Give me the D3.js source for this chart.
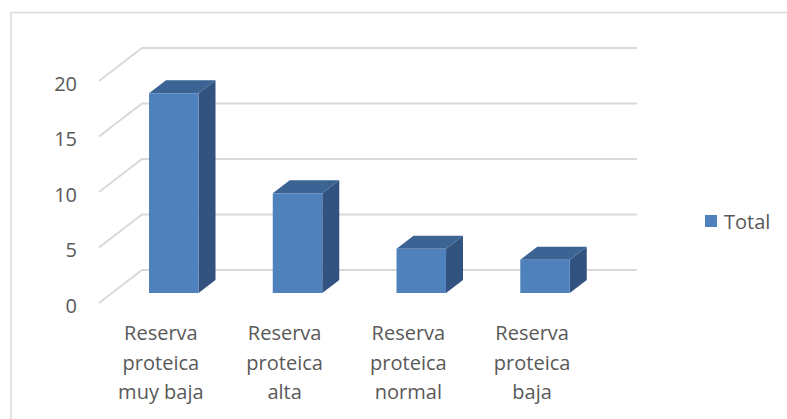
<!DOCTYPE html>
<html>
<head>
<meta charset="utf-8">
<script src="https://cdn.jsdelivr.net/npm/d3@7"></script>
<style>
  html, body { margin: 0; padding: 0; background: #fff; }
  svg { display: block; }
  text { font-family: "Open Sans", "Liberation Sans", sans-serif; fill: #595959; }
</style>
</head>
<body>
<svg id="chart" width="787" height="419"></svg>
<script>
// Data
const categories = [
  ["Reserva", "proteica", "muy baja"],
  ["Reserva", "proteica", "alta"],
  ["Reserva", "proteica", "normal"],
  ["Reserva", "proteica", "baja"]
];
const totals = [18, 9, 4, 3];
const yTicks = [0, 5, 10, 15, 20];
const seriesName = "Total";

const svg = d3.select("#chart");
const W = 787, H = 419;

// Outer chart frame
svg.append("rect")
  .attr("x", 11).attr("y", 12.5)
  .attr("width", 820).attr("height", 500)
  .attr("fill", "none").attr("stroke", "#d9d9d9").attr("stroke-width", 1.5);

// Oblique 3D projection: front floor plane plus depth offset
const depthX = 43, depthY = -33;
const frontLeft = 99, frontRight = 594, wallRight = 637;

const y = d3.scaleLinear().domain([0, 20]).range([303, 81]);
const x = d3.scaleBand()
  .domain(d3.range(categories.length))
  .range([frontLeft, frontRight])
  .paddingInner(0.6).paddingOuter(0.3);

// project a point (front x, value, depth fraction)
const P = (px, v, d) => [px + d * depthX, y(v) + d * depthY];

// Gridlines: side-wall diagonal then back-wall horizontal
const grid = svg.append("g");
yTicks.forEach(t => {
  const a = P(frontLeft, t, 0), b = P(frontLeft, t, 1);
  grid.append("path")
    .attr("d", d3.line()([a, b, [wallRight, b[1]]]))
    .attr("fill", "none").attr("stroke", "#d9d9d9").attr("stroke-width", 2);
});

// Y axis labels
svg.append("g").selectAll("text")
  .data(yTicks).join("text")
  .attr("x", 77).attr("y", d => y(d) + 2)
  .attr("text-anchor", "end")
  .attr("dominant-baseline", "central")
  .attr("font-size", 20)
  .text(d => d);

// 3D columns
const d0 = 0.3, d1 = 0.695;
const colFront = "#4f81bd", colTop = "#3b6393", colSide = "#32527f";
const bars = svg.append("g");
totals.forEach((v, i) => {
  const xl = x(i), xr = x(i) + x.bandwidth();
  const fTL = P(xl, v, d0), fTR = P(xr, v, d0), fBR = P(xr, 0, d0), fBL = P(xl, 0, d0);
  const bTL = P(xl, v, d1), bTR = P(xr, v, d1), bBR = P(xr, 0, d1);
  const poly = pts => "M" + pts.map(p => p.join(",")).join("L") + "Z";
  bars.append("path").attr("d", poly([fTR, bTR, bBR, fBR])).attr("fill", colSide);
  bars.append("path").attr("d", poly([fTL, bTL, bTR, fTR])).attr("fill", colTop);
  bars.append("path").attr("d", poly([fTL, fTR, fBR, fBL])).attr("fill", colFront);
});

// Category labels (three lines each)
const lab = svg.append("g");
categories.forEach((lines, i) => {
  const t = lab.append("text")
    .attr("text-anchor", "middle")
    .attr("font-size", 20);
  lines.forEach((s, k) => {
    t.append("tspan")
      .attr("x", x(i) + x.bandwidth() / 2)
      .attr("y", 340 + k * 29.5)
      .text(s);
  });
});

// Legend
const leg = svg.append("g");
leg.append("rect").attr("x", 705).attr("y", 215).attr("width", 12).attr("height", 12).attr("fill", colFront);
leg.append("text").attr("x", 724).attr("y", 221).attr("dominant-baseline", "central")
  .attr("font-size", 20).text(seriesName);
</script>
</body>
</html>
